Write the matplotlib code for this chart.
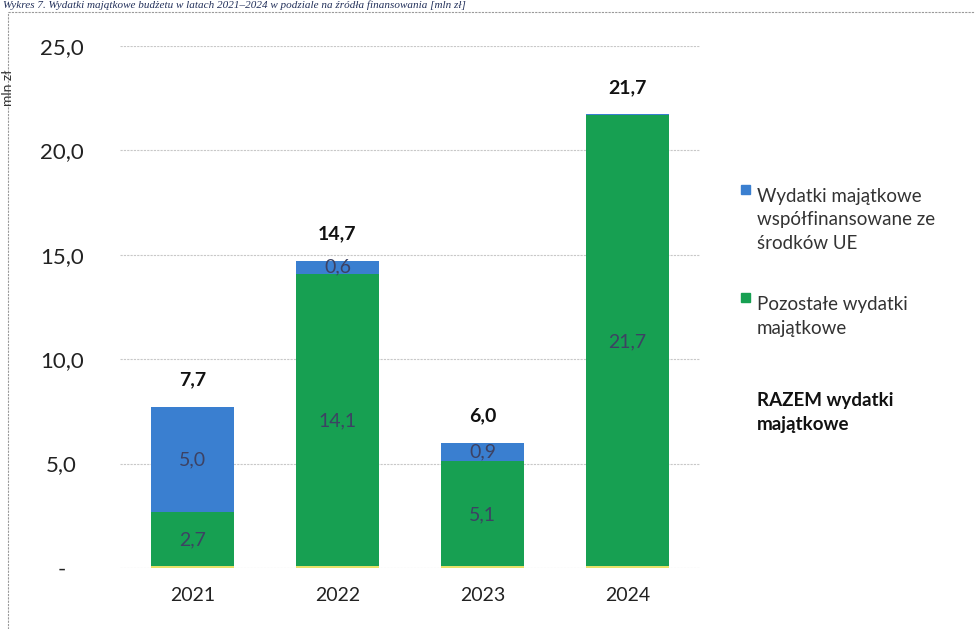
import matplotlib
matplotlib.use("Agg")
import matplotlib.pyplot as plt
from matplotlib.patches import Rectangle
from matplotlib.lines import Line2D
import numpy as np

plt.rcParams['font.family'] = ['Lato', 'DejaVu Sans']

years = ['2021', '2022', '2023', '2024']
eu_funded = [5.0, 0.6, 0.9, 0.05]
other = [2.7, 14.1, 5.1, 21.7]
totals = [7.7, 14.7, 6.0, 21.7]
yticks = [0, 5, 10, 15, 20, 25]
ytick_labels = ['-', '5,0', '10,0', '15,0', '20,0', '25,0']
legend_labels = ['Wydatki majątkowe\nwspółfinansowane ze\nśrodków UE',
                 'Pozostałe wydatki\nmajątkowe',
                 'RAZEM wydatki\nmajątkowe']

blue = '#3a7fd0'
green = '#17a052'

fig = plt.figure(figsize=(9.75, 6.29), dpi=100)
ax = fig.add_axes([0.123, 0.097, 0.595, 0.830])

x = np.arange(len(years))
width = 0.57
ax.bar(x, other, width, color=green, zorder=2)
ax.bar(x, eu_funded, width, bottom=other, color=blue, zorder=2)
ax.bar(x, [0.08] * len(years), width, color='#e8e26a', zorder=3)

for i in range(len(years)):
    ax.text(x[i], other[i] / 2, f'{other[i]:.1f}'.replace('.', ','),
            ha='center', va='center', fontsize=14, color='#3d4263', zorder=4)
    if eu_funded[i] >= 0.5:
        ax.text(x[i], other[i] + eu_funded[i] / 2, f'{eu_funded[i]:.1f}'.replace('.', ','),
                ha='center', va='center', fontsize=14, color='#3d4263', zorder=4)
    ax.text(x[i], totals[i] + 0.9, f'{totals[i]:.1f}'.replace('.', ','),
            ha='center', va='bottom', fontsize=14, fontweight='bold', color='#111111')

ax.set_xlim(-0.5, 3.5)
ax.set_ylim(0, 25)
ax.set_yticks(yticks)
ax.set_yticklabels(ytick_labels, ha='center')
ax.set_xticks(x)
ax.set_xticklabels(years)
ax.tick_params(axis='y', length=0, pad=42, labelsize=16, labelcolor='#222222')
ax.tick_params(axis='x', length=0, pad=14, labelsize=14, labelcolor='#222222')
ax.grid(axis='y', color='#c8c8c8', linestyle=(0, (2, 1)), linewidth=0.8, zorder=0)
for s in ax.spines.values():
    s.set_visible(False)

# legend, Excel style: marker beside the first line of each entry
legend_colors = [blue, green, None]
legend_y = [0.701, 0.529, 0.376]
for lab, col, ly in zip(legend_labels, legend_colors, legend_y):
    if col is not None:
        fig.add_artist(Rectangle((0.760, ly - 0.009), 0.0095, 0.0145, color=col,
                                 transform=fig.transFigure))
    fig.text(0.776, ly, lab, ha='left', va='top', fontsize=13.5, linespacing=1.45,
             color='#111111' if col is None else '#333333',
             fontweight='bold' if col is None else 'normal',
             transform=fig.transFigure)

# scanned frame and header
fig.add_artist(Line2D([0.008, 1.0], [0.981, 0.981], color='#9a9a9a', lw=0.8, linestyle=(0, (2, 1))))
fig.add_artist(Line2D([0.008, 0.008], [0.0, 0.981], color='#9a9a9a', lw=0.8, linestyle=(0, (2, 1))))
fig.text(0.003, 0.999, 'Wykres 7. Wydatki majątkowe budżetu w latach 2021–2024 w podziale na źródła finansowania [mln zł]',
         ha='left', va='top', fontsize=8, style='italic', family='Liberation Serif', color='#22305a')
fig.text(0.002, 0.86, 'mln zł', rotation=90, ha='left', va='center', fontsize=10, color='#333333')

fig.savefig('out.png', dpi=100)
